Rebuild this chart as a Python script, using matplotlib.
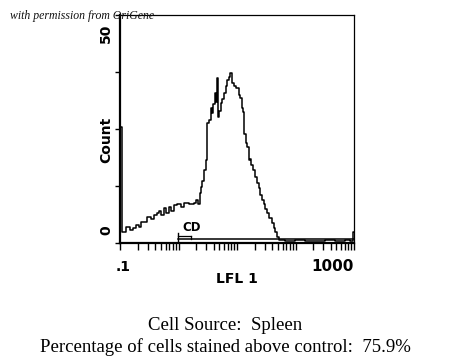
import numpy as np
import matplotlib
matplotlib.use("Agg")
import matplotlib.pyplot as plt
from matplotlib.ticker import LogLocator, NullFormatter

# ----------------------------
# Data (flow histogram, LFL1 vs count)
# ----------------------------
lfl = [
    0.100, 0.108, 0.127, 0.148, 0.167, 0.188, 0.212, 0.230, 0.258, 0.291,
    0.341, 0.384, 0.432, 0.467, 0.506, 0.569, 0.616, 0.694, 0.751, 0.845,
    0.953, 1.115, 1.255, 1.530, 1.862, 2.017, 2.185, 2.363, 2.459, 2.558,
    2.767, 2.994, 3.117, 3.373, 3.649, 3.796, 3.950, 4.274, 4.448, 4.627,
    4.813, 5.008, 5.420, 5.636, 6.099, 6.601, 6.868, 7.431, 7.731, 8.366,
    9.053, 9.796, 10.61, 11.04, 11.94, 12.42, 12.93, 13.99, 14.56, 15.75,
    16.39, 17.05, 18.45, 19.97, 21.61, 23.38, 24.33, 26.34, 28.50, 29.65,
    32.09, 34.73, 39.09, 42.32, 44.03, 47.65, 51.56, 65.3, 97.0, 144.0,
    214.0, 318.0, 472.0, 700.0, 853.0, 962.0, 1000.0,
]
count = [
    25.4, 2.5, 3.6, 2.9, 3.2, 3.9, 3.6, 4.7, 4.5, 5.6,
    5.2, 6.1, 6.5, 7.1, 6.1, 7.6, 6.5, 8.0, 7.1, 8.3,
    8.6, 8.0, 8.7, 8.6, 8.7, 9.4, 8.6, 10.9, 12.3, 13.5,
    16.0, 18.2, 26.3, 27.0, 29.6, 28.5, 30.5, 32.9, 31.0, 36.1,
    27.7, 29.0, 30.7, 31.5, 32.9, 34.5, 35.7, 36.5, 37.2, 35.0,
    34.5, 34.0, 32.5, 31.8, 29.5, 28.7, 24.0, 22.0, 21.0, 18.2,
    18.5, 17.0, 16.0, 14.5, 13.1, 12.0, 10.5, 9.4, 8.5, 7.5,
    6.6, 5.5, 4.4, 3.2, 2.5, 1.4, 0.6, 0.5, 0.6, 0.4,
    0.5, 0.6, 0.5, 0.6, 0.5, 2.5, 2.5,
]

# gate marker "CD"
gate_lo, gate_hi = 0.97, 1000.0
gate_box_hi = 1.63
gate_level = 0.9

y_ticks = [0, 12.5, 25, 37.5, 50]

# ----------------------------
# Figure
# ----------------------------
fig = plt.figure(figsize=(4.5, 3.64), dpi=100)
ax = fig.add_axes([120 / 450, 1 - 243 / 364, 234 / 450, 228 / 364])

ax.step(lfl, count, where="post", color="black", linewidth=1.1)

# gate bracket
ax.plot([gate_lo, gate_hi], [gate_level, gate_level], color="black", linewidth=1.1)
ax.plot([gate_lo, gate_lo], [0, 2.2], color="black", linewidth=1.0)
ax.plot([gate_lo, gate_box_hi], [1.6, 1.6], color="black", linewidth=0.9)
ax.plot([gate_box_hi, gate_box_hi], [gate_level, 1.6], color="black", linewidth=0.9)
ax.text(1.66, 3.3, "CD", ha="center", va="center", fontsize=8.5,
        fontweight="bold", family="DejaVu Sans")

ax.set_xscale("log")
ax.set_xlim(0.1, 1000)
ax.set_ylim(0, 50)

ax.xaxis.set_major_locator(LogLocator(base=10))
ax.xaxis.set_minor_locator(LogLocator(base=10, subs=np.arange(2, 10)))
ax.xaxis.set_major_formatter(NullFormatter())
ax.xaxis.set_minor_formatter(NullFormatter())
ax.set_yticks(y_ticks)
ax.set_yticklabels([])

ax.tick_params(axis="x", which="both", direction="out", length=5, width=1.0)
ax.tick_params(axis="y", direction="out", length=3.6, width=1.0)

for side in ["left", "bottom"]:
    ax.spines[side].set_linewidth(1.6)
for side in ["top", "right"]:
    ax.spines[side].set_linewidth(0.9)

# axis texts (plotter style)
lab = dict(fontsize=10, fontweight="bold", family="DejaVu Sans",
           ha="center", va="center", clip_on=False)
ytr = ax.get_yaxis_transform()
ax.text(-0.06, 46, "50", rotation=90, transform=ytr, **lab)
ax.text(-0.06, 2.85, "0", rotation=90, transform=ytr, **lab)
ax.text(-0.06, 22.6, "Count", rotation=90, transform=ytr, **lab)
ax.text(0.013, -0.105, ".1", transform=ax.transAxes, **lab)
ax.text(0.91, -0.105, "1000", transform=ax.transAxes,
        **{**lab, "fontsize": 11})
ax.text(0.5, -0.158, "LFL 1", transform=ax.transAxes, **lab)

# credits and caption
fig.text(10 / 450, 1 - 16 / 364, "with permission from OriGene",
         family="Liberation Serif", style="italic", fontsize=8.5,
         ha="left", va="center", color="#111111")
fig.text(0.5, 1 - 325 / 364, "Cell Source:  Spleen",
         family="Liberation Serif", fontsize=13.5, ha="center", va="center")
fig.text(0.5, 1 - 347 / 364, "Percentage of cells stained above control:  75.9%",
         family="Liberation Serif", fontsize=13.5, ha="center", va="center")

fig.savefig("out.png", dpi=100)
